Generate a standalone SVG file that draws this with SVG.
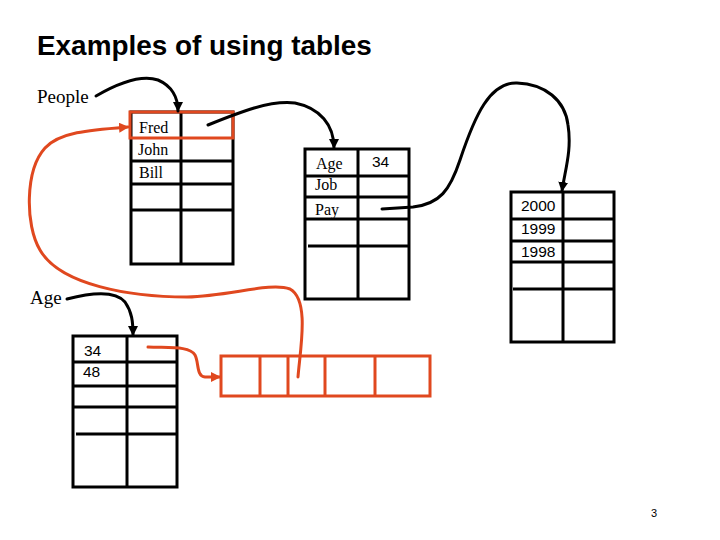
<svg xmlns="http://www.w3.org/2000/svg" width="720" height="540" viewBox="0 0 720 540">
<style>
.t{fill:none;stroke:#000;stroke-width:3}
.o{fill:none;stroke:#e0481f;stroke-width:3}
.c{fill:none;stroke:#000;stroke-width:3;stroke-linecap:round}
.co{fill:none;stroke:#e0481f;stroke-width:3;stroke-linecap:round}
.serif{font-family:"Liberation Serif","Times New Roman",serif;fill:#000}
.sans{font-family:"Liberation Sans",Arial,sans-serif;fill:#000}
</style>
<defs>
<marker id="ab" viewBox="0 0 10 10" refX="9" refY="5" markerWidth="10" markerHeight="10" markerUnits="userSpaceOnUse" orient="auto"><path d="M0,0 L10,5 L0,10 z" fill="#000"/></marker>
<marker id="ao" viewBox="0 0 10 10" refX="9" refY="5" markerWidth="10" markerHeight="10" markerUnits="userSpaceOnUse" orient="auto"><path d="M0,0 L10,5 L0,10 z" fill="#e0481f"/></marker>
</defs>
<text class="sans" x="37" y="55" font-size="27.9" font-weight="bold">Examples of using tables</text>
<text class="serif" x="37" y="103" font-size="19">People</text>
<text class="serif" x="30" y="304" font-size="19">Age</text>

<g id="people-table">
<rect class="t" x="131" y="112" width="102" height="152"/>
<line class="t" x1="181" y1="112" x2="181" y2="264"/>
<line class="t" x1="131" y1="161" x2="233" y2="161"/>
<line class="t" x1="131" y1="184" x2="233" y2="184"/>
<line class="t" x1="132" y1="210" x2="233" y2="210"/>
<rect class="o" x="130" y="112" width="103" height="26"/>
<text class="serif" x="139" y="133" font-size="16">Fred</text>
<text class="serif" x="138" y="155" font-size="16">John</text>
<text class="serif" x="139" y="178" font-size="16">Bill</text>
</g>

<g id="record-table">
<rect class="t" x="305" y="149" width="104" height="150"/>
<line class="t" x1="358" y1="149" x2="358" y2="299"/>
<line class="t" x1="305" y1="176" x2="409" y2="176"/>
<line class="t" x1="305" y1="197" x2="409" y2="197"/>
<line class="t" x1="305" y1="219" x2="409" y2="219"/>
<line class="t" x1="308" y1="246" x2="409" y2="246"/>
<text class="serif" x="316" y="169" font-size="16">Age</text>
<text class="serif" x="315" y="190" font-size="16">Job</text>
<text class="serif" x="315" y="215" font-size="16">Pay</text>
<text class="sans" x="372" y="167" font-size="15.5">34</text>
</g>

<g id="year-table">
<rect class="t" x="511" y="192" width="103" height="150"/>
<line class="t" x1="563" y1="192" x2="563" y2="342"/>
<line class="t" x1="511" y1="219" x2="614" y2="219"/>
<line class="t" x1="511" y1="241" x2="614" y2="241"/>
<line class="t" x1="511" y1="262" x2="614" y2="262"/>
<line class="t" x1="513" y1="289" x2="614" y2="289"/>
<text class="sans" x="521" y="211" font-size="15.5">2000</text>
<text class="sans" x="521" y="234" font-size="15.5">1999</text>
<text class="sans" x="521" y="257" font-size="15.5">1998</text>
</g>

<g id="age-table">
<rect class="t" x="73" y="336" width="104" height="151"/>
<line class="t" x1="127" y1="336" x2="127" y2="487"/>
<line class="t" x1="73" y1="362" x2="177" y2="362"/>
<line class="t" x1="73" y1="386" x2="177" y2="386"/>
<line class="t" x1="73" y1="407" x2="177" y2="407"/>
<line class="t" x1="76" y1="434" x2="177" y2="434"/>
<text class="sans" x="84" y="356" font-size="15.5">34</text>
<text class="sans" x="83" y="377" font-size="15.5">48</text>
</g>

<g id="array">
<rect class="o" x="221" y="356" width="209" height="40"/>
<line class="o" x1="260" y1="356" x2="260" y2="396"/>
<line class="o" x1="288" y1="356" x2="288" y2="396"/>
<line class="o" x1="325" y1="356" x2="325" y2="396"/>
<line class="o" x1="375" y1="356" x2="375" y2="396"/>
</g>

<g id="connectors">
<path class="c" d="M96,96 C115,85 140,74 158,80 C172,86 178,98 178,111" marker-end="url(#ab)"/>
<path class="c" d="M208,125 C240,112 270,100 295,103 C320,108 334,125 334,148" marker-end="url(#ab)"/>
<path class="c" d="M382,209 L413,207 C440,204 450,190 460,160 C475,115 490,82 517,83 C545,84 565,100 568,125 C572,150 565,170 562,191" marker-end="url(#ab)"/>
<path class="c" d="M67,299 C90,293 115,290 125,302 C132,312 133,322 133,335" marker-end="url(#ab)"/>
<path class="co" d="M148,347 C170,348 190,346 195,355 C199,362 196,376 205,377 L220,377" marker-end="url(#ao)"/>
<path class="co" d="M298,377 C300,350 310,300 290,289 C270,282 230,296 187,297 C130,297 60,285 40,250 C25,225 25,170 45,148 C60,132 90,130 128,127" marker-end="url(#ao)"/>
</g>
<text class="sans" x="651" y="517" font-size="11">3</text>
</svg>
